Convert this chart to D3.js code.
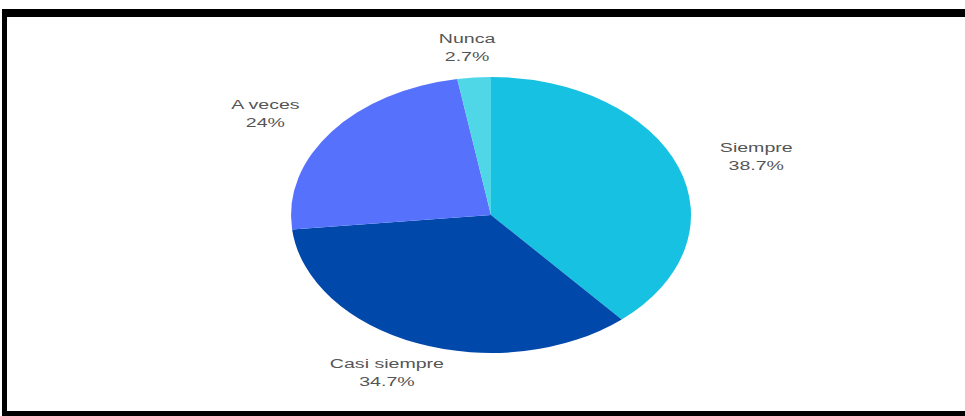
<!DOCTYPE html>
<html>
<head>
<meta charset="utf-8">
<script src="https://cdn.jsdelivr.net/npm/d3@7"></script>
<style>
html,body{margin:0;padding:0;background:#fff;}
svg{display:block;}
</style>
</head>
<body>
<svg id="chart" width="965" height="416"></svg>
<script>
const categories = ["Siempre", "Casi siempre", "A veces", "Nunca"];
const values = [38.7, 34.7, 24, 2.7];
const valueLabels = ["38.7%", "34.7%", "24%", "2.7%"];
const colors = ["#17c1e1", "#0049ab", "#5672fc", "#4fd7e8"];

const svg = d3.select("#chart");
const W = 965, H = 416;

// frame
svg.append("rect").attr("x", 0).attr("y", 0).attr("width", W).attr("height", H).attr("fill", "#fff");
svg.append("rect").attr("x", 2).attr("y", 9).attr("width", W + 10).attr("height", 8).attr("fill", "#000");
svg.append("rect").attr("x", 2).attr("y", 9).attr("width", 5).attr("height", H).attr("fill", "#000");
svg.append("rect").attr("x", 2).attr("y", 411).attr("width", W + 10).attr("height", 6).attr("fill", "#000");

const cx = 491, cy = 215, rx = 200, ry = 138;
const sx = rx / ry;

const data = categories.map((c, i) => ({ cat: c, value: values[i], label: valueLabels[i], color: colors[i] }));
const pie = d3.pie().value(d => d.value).sort(null);
const arcs = pie(data);
const arc = d3.arc().innerRadius(0).outerRadius(ry);

const g = svg.append("g").attr("transform", `translate(${cx},${cy}) scale(${sx},1)`);
g.selectAll("path").data(arcs).enter().append("path")
  .attr("d", arc)
  .attr("fill", d => d.data.color);

// labels
const lx = 283, ly = 169;
const lab = svg.append("g").attr("transform", `translate(${cx},${cy})`);
arcs.forEach(a => {
  const m = (a.startAngle + a.endAngle) / 2;
  const x = Math.sin(m) * lx, y = -Math.cos(m) * ly;
  const t = lab.append("g").attr("transform", `translate(${x},${y}) scale(1.45,1)`);
  t.append("text").attr("x", 0).attr("y", -4).attr("text-anchor", "middle")
    .attr("font-family", "Liberation Sans, Arial, sans-serif").attr("font-size", 13.5)
    .attr("fill", "#555").text(a.data.cat);
  t.append("text").attr("x", 0).attr("y", 14).attr("text-anchor", "middle")
    .attr("font-family", "Liberation Sans, Arial, sans-serif").attr("font-size", 13.5)
    .attr("fill", "#555").text(a.data.label);
});
</script>
</body>
</html>
